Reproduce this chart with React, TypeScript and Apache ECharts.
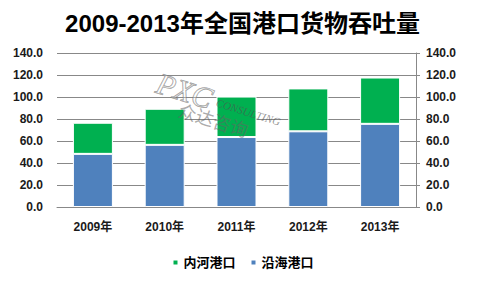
import React, { useEffect, useRef } from "react";
import * as echarts from "echarts";

const categories = ["2009年", "2010年", "2011年", "2012年", "2013年"];
const coastal = [48.3, 56.5, 63.6, 68.8, 75.6];
const inland = [28.3, 32.8, 36.8, 39.0, 42.1];
const yTicks = { min: 0, max: 140, interval: 20 };

const FONT = '"Liberation Sans", Arial, "Noto Sans CJK SC", sans-serif';

export default function App() {
  const ref = useRef<HTMLDivElement>(null);
  useEffect(() => {
    const chart = echarts.init(ref.current!, null, { renderer: "svg" });
    const axisLabel = {
      fontSize: 12,
      fontWeight: "bold" as const,
      color: "#1a1a1a",
      fontFamily: FONT,
      formatter: (v: number) => v.toFixed(1),
    };
    chart.setOption({
      animation: false,
      backgroundColor: "#fff",
      title: {
        text: "2009-2013年全国港口货物吞吐量",
        left: "center",
        top: 6,
        textStyle: { fontSize: 24, fontWeight: "bold", color: "#000", fontFamily: FONT },
      },
      legend: {
        data: ["内河港口", "沿海港口"],
        bottom: 16,
        left: "center",
        itemWidth: 6,
        itemHeight: 6,
        itemGap: 14,
        icon: "rect",
        textStyle: { fontSize: 13, fontWeight: "bold", color: "#000", fontFamily: FONT },
      },
      grid: { left: 57, right: 69, top: 53, bottom: 83 },
      xAxis: {
        type: "category",
        data: categories,
        axisLine: { lineStyle: { color: "#888" } },
        axisTick: { show: false },
        axisLabel: { ...axisLabel, formatter: undefined, margin: 14 },
      },
      yAxis: [
        {
          type: "value",
          ...yTicks,
          position: "left",
          axisLine: { show: false },
          axisTick: { show: false },
          splitLine: { lineStyle: { color: "#888", width: 1 } },
          axisLabel: { ...axisLabel, margin: 14 },
        },
        {
          type: "value",
          ...yTicks,
          position: "right",
          axisLine: { show: true, lineStyle: { color: "#888" } },
          axisTick: { show: true, length: 4, lineStyle: { color: "#888" } },
          splitLine: { show: false },
          axisLabel: { ...axisLabel, margin: 10 },
        },
      ],
      series: [
        {
          name: "沿海港口",
          type: "bar",
          stack: "total",
          data: coastal,
          barWidth: 40,
          itemStyle: { color: "#4F81BD", borderColor: "#fff", borderWidth: 1 },
        },
        {
          name: "内河港口",
          type: "bar",
          stack: "total",
          data: inland,
          barWidth: 40,
          itemStyle: { color: "#00B050", borderColor: "#fff", borderWidth: 1 },
        },
      ],
      graphic: [
        {
          type: "text",
          x: 162,
          y: 68,
          rotation: -0.3,
          z: 100,
          style: {
            text: "PXC",
            fontSize: 30,
            fontStyle: "italic",
            fontFamily: '"Liberation Serif", serif',
            fill: "rgba(255,255,255,0.3)",
            stroke: "rgba(110,110,110,0.7)",
            lineWidth: 1,
          },
        },
        {
          type: "text",
          x: 182,
          y: 100,
          rotation: -0.3,
          z: 100,
          style: {
            text: "众达咨询",
            fontSize: 18,
            fontFamily: '"Noto Sans CJK SC", sans-serif',
            fill: "rgba(100,100,100,0.55)",
          },
        },
        {
          type: "text",
          x: 218,
          y: 97,
          rotation: -0.3,
          z: 100,
          style: {
            text: "CONSULTING",
            fontSize: 11,
            fontStyle: "italic",
            fontFamily: '"Liberation Serif", serif',
            fill: "rgba(80,80,80,0.6)",
          },
        },
      ],
    });
    return () => chart.dispose();
  }, []);
  return <div ref={ref} style={{ width: 485, height: 290, position: "absolute", left: 0, top: 0 }} />;
}
